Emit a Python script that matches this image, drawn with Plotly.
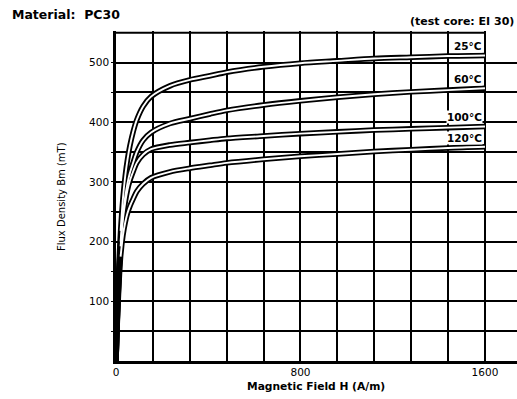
import plotly.graph_objects as go

# ---- data ----
H = [0, 5, 10, 15, 20, 30, 40, 50, 60, 75, 90, 118, 152, 234, 320, 408, 480,
     640, 800, 960, 1120, 1280, 1440, 1600]
B_25 = [0, 75, 135, 180, 218, 272, 310, 338, 360, 385, 404, 427, 443, 461, 471,
        478, 484, 493, 499, 503, 507, 509, 511, 512]
B_60 = [0, 65, 120, 165, 200, 245, 275, 298, 315, 333, 350, 370, 383, 398, 406,
        414, 420, 429, 436, 442, 447, 451, 454, 457]
B_100 = [0, 62, 115, 158, 192, 238, 266, 287, 302, 318, 332, 346, 355, 362, 366,
         370, 373, 377, 381, 384, 387, 389, 391, 393]
B_120 = [0, 58, 105, 145, 175, 210, 232, 248, 259, 272, 284, 297, 307, 317, 323,
         328, 332, 338, 343, 347, 351, 354, 357, 359]
series = [("25°C", B_25), ("60°C", B_60), ("100°C", B_100), ("120°C", B_120)]

x_grid = [0, 160, 320, 480, 640, 800, 960, 1120, 1280, 1440, 1600]
x_labels = ["0", "", "", "", "", "800", "", "", "", "", "1600"]
y_grid = [50, 100, 150, 200, 250, 300, 350, 400, 450, 500]
y_labels = ["", "100", "", "200", "", "300", "", "400", "", "500"]

FONT = "DejaVu Sans, Verdana, sans-serif"

W, Hpx = 517, 399
ML, MR, MT, MB = 116, 0, 31, 38
pw, ph = W - ML - MR, Hpx - MT - MB


def px(x, y):
    return (x - ML) / pw, (Hpx - MB - y) / ph


fig = go.Figure()
# outer (black) strokes
for name, b in series:
    fig.add_trace(go.Scatter(x=H, y=b, mode="lines", showlegend=False,
                             line=dict(color="black", width=5.5, shape="spline", smoothing=0.8),
                             hoverinfo="skip"))
# inner (white) strokes -> hollow double line look
for name, b in series:
    fig.add_trace(go.Scatter(x=H[4:], y=b[4:], mode="lines", showlegend=False,
                             line=dict(color="white", width=1.9, shape="spline", smoothing=0.8),
                             hoverinfo="skip"))

# temperature labels at the curve ends
for name, b in series:
    fig.add_annotation(x=H[-1], y=b[-1], xref="x", yref="y", text="<b>%s</b>" % name,
                       showarrow=False, xanchor="right", yanchor="bottom", xshift=-2, yshift=2,
                       bgcolor="white", borderpad=0,
                       font=dict(family=FONT, size=10.5, color="black"))

# top border ending at H=1600
fig.add_shape(type="line", xref="x", yref="y", x0=0, x1=1600, y0=550, y1=550,
              line=dict(color="black", width=2))

ax, ay = px(10, 15)
fig.add_annotation(xref="paper", yref="paper", x=ax, y=ay, text="<b>Material:  PC30</b>",
                   showarrow=False, xanchor="left", yanchor="middle",
                   font=dict(family=FONT, size=12.5, color="black"))
ax, ay = px(516, 21)
fig.add_annotation(xref="paper", yref="paper", x=ax, y=ay, text="<b>(test core: EI 30)</b>",
                   showarrow=False, xanchor="right", yanchor="middle",
                   font=dict(family=FONT, size=11, color="black"))
ax, ay = px(61, 197)
fig.add_annotation(xref="paper", yref="paper", x=ax, y=ay, text="Flux Density Bm (mT)",
                   showarrow=False, textangle=-90, xanchor="center", yanchor="middle",
                   font=dict(family=FONT, size=10, color="black"))
ax, ay = px(316, 386)
fig.add_annotation(xref="paper", yref="paper", x=ax, y=ay, text="<b>Magnetic Field H (A/m)</b>",
                   showarrow=False, xanchor="center", yanchor="middle",
                   font=dict(family=FONT, size=10.7, color="black"))

fig.update_xaxes(range=[0, 1739], tickvals=x_grid, ticktext=x_labels,
                 showgrid=True, gridcolor="black", gridwidth=1.6,
                 showline=True, linecolor="black", linewidth=2.5,
                 zeroline=False, ticks="", ticklen=0,
                 tickfont=dict(family=FONT, size=10.5, color="black"),
                 tickprefix="<b>", ticksuffix="</b>", fixedrange=True)
fig.update_yaxes(range=[0, 553], tickvals=y_grid, ticktext=y_labels,
                 showgrid=True, gridcolor="black", gridwidth=1.6,
                 showline=True, linecolor="black", linewidth=2.5,
                 zeroline=False, ticks="outside", ticklen=2, tickcolor="black",
                 tickfont=dict(family=FONT, size=10.5, color="black"),
                 tickprefix="<b>", ticksuffix="</b>", fixedrange=True)

fig.update_layout(width=W, height=Hpx, autosize=False,
                  margin=dict(l=ML, r=MR, t=MT, b=MB, pad=0),
                  plot_bgcolor="white", paper_bgcolor="white",
                  showlegend=False)

fig.write_html("out.html", config={"displayModeBar": False},
               post_script="document.body.style.margin='0';")
